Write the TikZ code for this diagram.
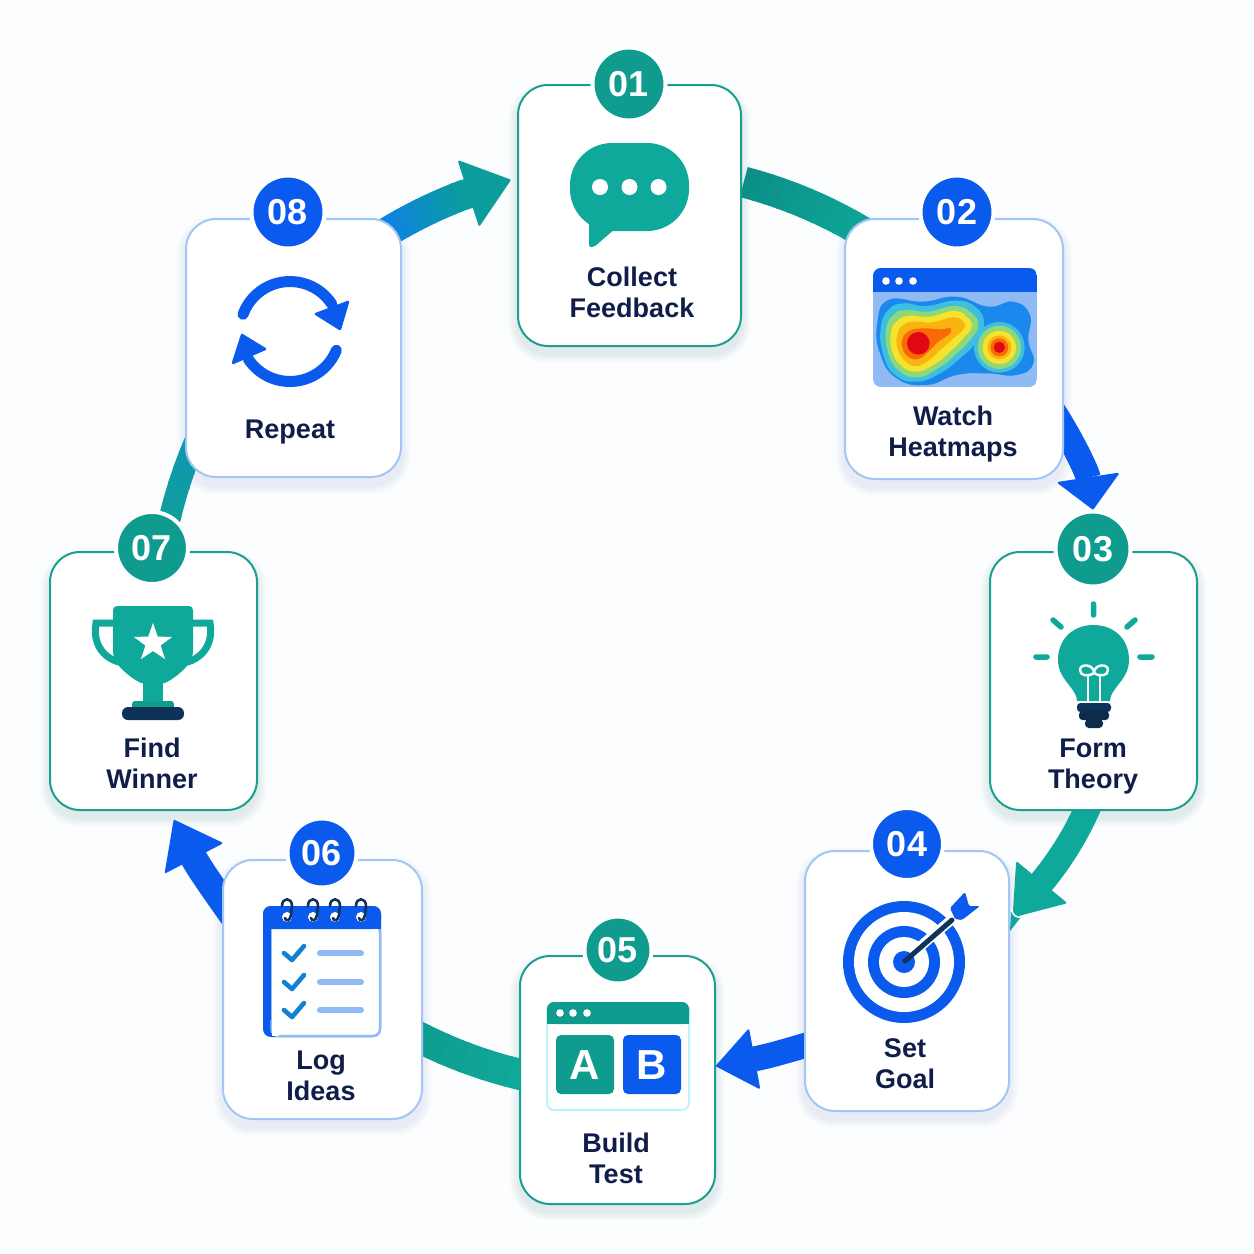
\documentclass[tikz,border=0pt]{standalone}
\usepackage{fontspec}
\setmainfont{Liberation Sans}
\usetikzlibrary{arrows.meta,calc}
\definecolor{paper}{HTML}{FCFDFE}
\definecolor{tealA}{HTML}{0F9C8E}
\definecolor{tealB}{HTML}{0FA99B}
\definecolor{tealD}{HTML}{0B8F86}
\definecolor{blueA}{HTML}{0B5AEE}
\definecolor{tealEdge}{HTML}{1C9E93}
\definecolor{blueEdge}{HTML}{A3C6F5}
\definecolor{ink}{HTML}{101D4A}
\definecolor{navy}{HTML}{0F3358}
\definecolor{pale}{HTML}{8FBAF3}
\definecolor{shadowT}{HTML}{3C8F96}
\definecolor{shadowB}{HTML}{4F7FD8}
\definecolor{gradBlue}{HTML}{0F80E6}
\definecolor{gradTeal}{HTML}{0B9CA0}
\definecolor{gradSeven}{HTML}{0F9F96}
\definecolor{gradEight}{HTML}{0E97B4}
\definecolor{hb}{HTML}{1A88EC}
\definecolor{hc}{HTML}{3FBFE0}
\definecolor{hg}{HTML}{8ED87A}
\definecolor{hy}{HTML}{F7E32C}
\definecolor{ho}{HTML}{FBB312}
\definecolor{hr}{HTML}{F86A05}
\definecolor{hd}{HTML}{E30613}
\definecolor{checkc}{HTML}{1281D4}
\pgfdeclarelayer{back}
\pgfdeclarelayer{conn}
\pgfsetlayers{back,conn,main}
\tikzset{
  card/.style={rectangle,rounded corners=30pt,fill=white,line width=2pt,inner sep=0pt},
  tealcard/.style={card,draw=tealEdge},
  bluecard/.style={card,draw=blueEdge},
  badge/.style={circle,draw=white,line width=4pt,inner sep=0pt,text=white,
     font=\fontsize{36}{36}\selectfont\bfseries},
  tealbadge/.style={badge,fill=tealA},
  bluebadge/.style={badge,fill=blueA},
  steptext/.style={align=center,text=ink,inner sep=0pt,
     font=\fontsize{27}{31}\selectfont\bfseries},
  flow/.style={draw,line cap=butt},
  bluehead/.style={flow,draw=blueA,line width=25pt},
  tealhead/.style={flow,draw=tealB,line width=26pt},
  tilechar/.style={text=white,inner sep=0pt,font=\fontsize{42}{42}\selectfont\bfseries},
}
\newcommand{\ringarc}[7]{%
  \foreach \k in {1,...,#7}{%
    \pgfmathsetmacro\ringA{#1+(#2-#1)*(\k-1)/#7}%
    \pgfmathsetmacro\ringB{#1+(#2-#1)*(\k+0.1)/#7}%
    \pgfmathtruncatemacro\ringP{100-100*(\k-1)/(#7-1)}%
    \draw[flow,line width=#4,draw={#5!\ringP!#6}] (ring) ++(\ringA:#3)
      arc[start angle=\ringA,end angle=\ringB,radius=#3];
  }%
}
\newcommand{\softshadow}[2]{%
  \foreach \i in {1,...,9}{%
    \pgfmathsetmacro\rr{30+\i}%
    \fill[#2,opacity=0.01,rounded corners=\rr pt]
      ($(#1.south west)+(-\i,\i+7)$) rectangle ($(#1.north east)+(\i,-\i+7)$);
  }%
}
\begin{document}
\begin{tikzpicture}[x=1pt,y=-1pt]
\useasboundingbox (0,0) rectangle (1254,1254);
\begin{pgfonlayer}{back}
  \fill[paper] (0,0) rectangle (1254,1254);
\end{pgfonlayer}
\coordinate (ring) at (627,627);

% ---------- cards and badges
\node[tealcard,minimum width=223pt,minimum height=261pt] (b1) at (629.5,215.5) {};
\node[bluecard,minimum width=218pt,minimum height=260pt] (b2) at (954,349) {};
\node[tealcard,minimum width=207pt,minimum height=258pt] (b3) at (1093.5,681) {};
\node[bluecard,minimum width=204pt,minimum height=260pt] (b4) at (907,981) {};
\node[tealcard,minimum width=195pt,minimum height=248pt] (b5) at (617.5,1080) {};
\node[bluecard,minimum width=199pt,minimum height=259pt] (b6) at (322.5,989.5) {};
\node[tealcard,minimum width=207pt,minimum height=258pt] (b7) at (153.5,681) {};
\node[bluecard,minimum width=215pt,minimum height=258pt] (b8) at (293.5,348) {};

\node[tealbadge,minimum size=73pt] (n1) at (629,84) {01};
\node[bluebadge,minimum size=73pt] (n2) at (957,212) {02};
\node[tealbadge,minimum size=75pt] (n3) at (1093,549) {03};
\node[bluebadge,minimum size=72pt] (n4) at (907,844) {04};
\node[tealbadge,minimum size=67pt] (n5) at (618,950) {05};
\node[bluebadge,minimum size=69pt] (n6) at (322,853) {06};
\node[tealbadge,minimum size=72pt] (n7) at (152,548) {07};
\node[bluebadge,minimum size=73pt] (n8) at (288,212) {08};

% ---------- labels
\node[steptext] (t1) at (632,292.5) {Collect\\Feedback};
\node[steptext] (t2) at (953,434.5) {Watch\\Heatmaps};
\node[steptext] (t3) at (1093,766.5) {Form\\Theory};
\node[steptext] (t4) at (905,1063.5) {Set\\Goal};
\node[steptext] (t5) at (616,1158.5) {Build\\Test};
\node[steptext] (t6) at (321,1075.5) {Log\\Ideas};
\node[steptext] (t7) at (152,763.5) {Find\\Winner};
\node[steptext] (t8) at (290,432) {Repeat};

% ---------- shadows
\begin{pgfonlayer}{back}
  \softshadow{b1}{shadowT}\softshadow{b3}{shadowT}\softshadow{b5}{shadowT}\softshadow{b7}{shadowT}
  \softshadow{b2}{shadowB}\softshadow{b4}{shadowB}\softshadow{b6}{shadowB}\softshadow{b8}{shadowB}
\end{pgfonlayer}

% ---------- connectors (behind the cards)
\begin{pgfonlayer}{conn}
  \coordinate (s23) at (1040,392);
  \coordinate (s34) at (1095,790);
  \coordinate (s45) at (830,1038);
  \coordinate (s67) at (250,940);
  \path (ring) ++(-111:462) coordinate (s81);
  \path (ring) ++(-104.6:462) coordinate (e81);
  % 1 -> 2
  \ringarc{-75.3}{-56}{460}{31pt}{tealD}{tealB}{12}
  % 2 -> 3
  \draw[bluehead,-{Triangle[length=33pt,width=64pt,line width=2pt,round]}]
     (s23) .. controls (1062,420) and (1087,470) .. (n3.north);
  % 3 -> 4
  \draw[tealhead,-{Triangle[length=46pt,width=66pt,line width=2pt,round]}]
     (s34) .. controls (1080,830) and (1060,860) .. (1013,917);
  % 4 -> 5
  \draw[bluehead,-{Triangle[length=40pt,width=62pt,line width=2pt,round]}]
     (s45) .. controls (800,1047) and (770,1056) .. (b5.east |- 0,1066);
  % 5 -> 6
  \ringarc{-258}{-241}{460}{31pt}{tealB}{tealA}{6}
  % 6 -> 7
  \draw[bluehead,line width=27pt,-{Triangle[length=44pt,width=66pt,line width=2pt,round]}]
     (s67) .. controls (225,905) and (200,870) .. (174,820);
  % 7 -> 8
  \ringarc{-170}{-155}{470}{22pt}{gradSeven}{gradEight}{8}
  % 8 -> 1
  \ringarc{-122}{-110.7}{462}{30pt}{gradBlue}{gradTeal}{12}
  \draw[flow,draw=gradTeal!70!tealA,line width=30pt,-{Triangle[length=45pt,width=70pt,line width=2pt,round]}]
     (s81) -- (e81);
\end{pgfonlayer}
\fill[tealB] (1011,912) -- (1021,917) -- (1010,931) -- cycle;
\draw[white,line width=1.5pt] (1012,909) .. controls (1012,915) and (1016,918) .. (1022,917);

% ---------- icon 1: speech bubble
\fill[tealB,rounded corners=42pt] (570,143) rectangle (689,231);
\fill[tealB,rounded corners=2pt] (589,215) -- (589,247) -- (594,247) -- (616,228) -- cycle;
\foreach \x in {600,629.5,658.5} \fill[white] (\x,187) circle[radius=8];

% ---------- icon 2: heat map
\begin{scope}
  \clip[rounded corners=8pt] (873,268) rectangle (1037,387);
  \fill[pale] (873,268) rectangle (1037,387);
  \fill[blueA] (873,268) rectangle (1037,292);
  \begin{scope}[shift={(860,260)},x=0.33333pt,y=-0.33333pt]
    \fill[hb] plot[smooth cycle,tension=.8] coordinates
      {(52,190)(85,120)(190,125)(290,110)(385,140)(460,125)(510,165)(505,240)(520,310)(470,345)(380,340)(290,345)(200,375)(110,355)(60,280)};
    \fill[hc] plot[smooth cycle,tension=.8] coordinates
      {(62,205)(85,150)(130,130)(200,138)(285,122)(345,140)(372,190)(345,250)(300,295)(240,340)(170,365)(105,345)(70,285)};
    \fill[hc] (418,262) circle[radius=76];
    \fill[hg] plot[smooth cycle,tension=.8] coordinates
      {(78,210)(100,165)(140,150)(205,155)(280,138)(330,155)(355,195)(330,240)(285,285)(235,325)(170,352)(115,330)(85,280)};
    \fill[hg] (418,262) circle[radius=65];
    \fill[hy] plot[smooth cycle,tension=.8] coordinates
      {(93,215)(115,180)(150,167)(210,170)(280,153)(320,170)(335,200)(310,235)(265,280)(225,312)(170,335)(125,318)(97,275)};
    \fill[hy] (418,262) circle[radius=50];
    \fill[ho] plot[smooth cycle,tension=.8] coordinates
      {(112,225)(130,195)(165,185)(215,187)(280,172)(310,185)(312,205)(280,235)(240,270)(210,298)(170,318)(135,303)(113,265)};
    \fill[ho] (418,262) circle[radius=36];
    \fill[hr] plot[smooth cycle,tension=.8] coordinates
      {(128,235)(150,212)(190,205)(240,208)(272,205)(265,225)(235,245)(205,275)(175,297)(145,290)(128,265)};
    \fill[hr] (418,262) circle[radius=27];
    \fill[hd] (175,250) circle[radius=34];
    \fill[hd] (418,262) circle[radius=17];
  \end{scope}
\end{scope}
\foreach \x in {886,899,913} \fill[white] (\x,281) circle[radius=3.8];

% ---------- icon 3: light bulb
\fill[tealB] (1077,701) .. controls (1077,688) and (1058,680) .. (1058,660)
   .. controls (1058,638) and (1074,625) .. (1093.5,625)
   .. controls (1113,625) and (1129,638) .. (1129,660)
   .. controls (1129,680) and (1110,688) .. (1110,701) -- cycle;
\draw[white,line width=2.4pt] (1088,701) -- (1088,675) (1100,701) -- (1100,675);
\draw[white,line width=2.4pt] (1094,673) .. controls (1094,664) and (1080,663) .. (1080,670)
   .. controls (1080,676) and (1088,677) .. (1094,673)
   .. controls (1100,677) and (1108,676) .. (1108,670)
   .. controls (1108,663) and (1094,664) .. (1094,673);
\fill[navy,rounded corners=3.5pt] (1077,703) rectangle (1111,712);
\fill[navy!85!black,rounded corners=3.5pt] (1079,711) rectangle (1109,720);
\fill[navy!85!black,rounded corners=4pt] (1085,719) rectangle (1103,728);
\draw[tealB,line width=5.5pt,line cap=round]
   (1093.5,604) -- (1093.5,615)
   (1053,620) -- (1061,627)
   (1135,620) -- (1127,627)
   (1036,657) -- (1047,657)
   (1140,657) -- (1152,657);

% ---------- icon 4: target
\fill[blueA] (904,962) circle[radius=61];
\fill[white] (904,962) circle[radius=50];
\fill[blueA] (904,962) circle[radius=36];
\fill[white] (904,962) circle[radius=25];
\fill[blueA] (904,962) circle[radius=11];
\draw[white,line width=10pt] (915,951) -- (950,921);
\draw[navy,line width=5pt,line cap=round] (905,961) -- (952,920);
\fill[blueA,rounded corners=1.5pt] (950,908) -- (965,892) -- (969,906) -- (980,906) -- (962,920) -- (955,919) -- cycle;

% ---------- icon 5: A/B window
\fill[white,draw=blue!20!cyan!25!white,line width=2pt,rounded corners=7pt] (547,1003) rectangle (689,1110);
\fill[tealA,rounded corners=7pt] (547,1002) rectangle (689,1024);
\fill[tealA] (547,1014) rectangle (689,1024);
\foreach \x in {560,573,587} \fill[white] (\x,1013) circle[radius=3.8];
\fill[tealA,rounded corners=5pt] (556,1035) rectangle (614,1094);
\fill[blueA,rounded corners=5pt] (623,1035) rectangle (681,1094);
\node[tilechar] (la) at (585,1065) {A};
\node[tilechar] (lb) at (652,1065) {B};

% ---------- icon 6: notepad
\fill[blueA,rounded corners=8pt] (263,906) rectangle (381,1037);
\fill[white,draw=pale,line width=2.5pt,rounded corners=7pt] (271.5,925) rectangle (380,1036);
\fill[white] (272,929) rectangle (279,1036);
\fill[blueA,rounded corners=8pt] (263,906) rectangle (381,929);
\fill[blueA] (263,915) rectangle (381,929);
\fill[blueA] (263,920) rectangle (271,1020);
\foreach \x in {287,313,335,361}{
  \fill[white] (\x,917) circle[radius=5];
  \draw[navy,line width=2.6pt,line cap=round] (\x-5,906) .. controls (\x-5,897) and (\x+5,897) .. (\x+5,906)
     -- (\x+4,915) .. controls (\x+3,921) and (\x-1,922) .. (\x-2,918);
}
\foreach \y in {953,982,1010}{
  \draw[checkc,line width=4.6pt,line cap=round,line join=round]
     (284,\y) -- (292,\y+7) -- (304,\y-7);
  \draw[pale,line width=6pt,line cap=round] (320,\y) -- (361,\y);
}

% ---------- icon 7: trophy
\draw[tealB,line width=7pt] (116,623) -- (96,623) .. controls (92,645) and (105,660) .. (123,663);
\draw[tealB,line width=7pt] (190,623) -- (210,623) .. controls (214,645) and (201,660) .. (183,663);
\fill[tealB,rounded corners=4pt] (113,606) -- (193,606) -- (193,650) .. controls (192,665) and (175,678) .. (163,684)
   -- (143,684) .. controls (131,678) and (114,665) .. (113,650) -- cycle;
\fill[tealB] (143,680) rectangle (163,702);
\fill[tealA,rounded corners=3pt] (132,701) rectangle (174,710);
\fill[navy,rounded corners=6pt] (122,707) rectangle (184,720);
\fill[white] (153,623) -- (157.7,636.5) -- (172,637) -- (160.6,645.5) -- (165,659) -- (153,651)
   -- (141,659) -- (145.4,645.5) -- (134,637) -- (148.3,636.5) -- cycle;

% ---------- icon 8: cycle arrows
\draw[blueA,line width=11pt,line cap=round] (290,331.5) ++(-160:50) arc[start angle=-160,end angle=-33,radius=50];
\fill[blueA,draw=blueA,line width=2.5pt,line join=round] (348,302) -- (340,329) -- (316,314) -- cycle;
\draw[blueA,line width=11pt,line cap=round] (290,331.5) ++(22:50) arc[start angle=22,end angle=147,radius=50];
\fill[blueA,draw=blueA,line width=2.5pt,line join=round] (233,363) -- (242,335) -- (265,349) -- cycle;
\end{tikzpicture}
\end{document}
